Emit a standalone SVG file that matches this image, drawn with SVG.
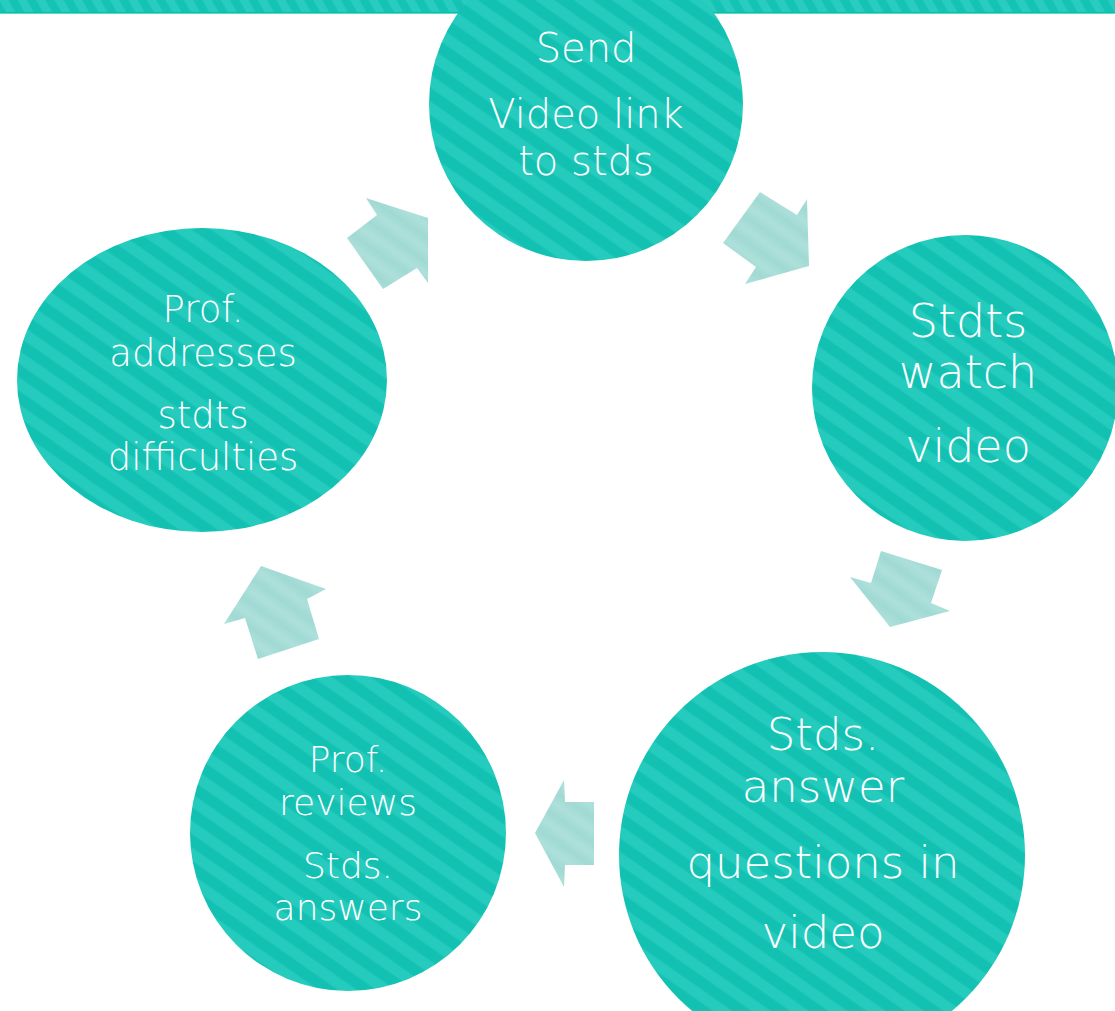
<svg xmlns="http://www.w3.org/2000/svg" width="1115" height="1011" viewBox="0 0 1115 1011">
  <defs>
    <!-- diagonal stripes for the teal shapes -->
    <linearGradient id="tealStripes" gradientUnits="userSpaceOnUse" x1="0" y1="0" x2="22" y2="0" spreadMethod="repeat" gradientTransform="rotate(-55)">
      <stop offset="0" stop-color="#25cbbd"/>
      <stop offset="0.4" stop-color="#25cbbd"/>
      <stop offset="0.5" stop-color="#12c1b2"/>
      <stop offset="0.9" stop-color="#12c1b2"/>
      <stop offset="1" stop-color="#25cbbd"/>
    </linearGradient>
    <linearGradient id="bandStripes" gradientUnits="userSpaceOnUse" x1="0" y1="0" x2="16" y2="0" spreadMethod="repeat" gradientTransform="rotate(-30)">
      <stop offset="0" stop-color="#28cdbf"/>
      <stop offset="0.4" stop-color="#28cdbf"/>
      <stop offset="0.5" stop-color="#14c3b3"/>
      <stop offset="0.9" stop-color="#14c3b3"/>
      <stop offset="1" stop-color="#28cdbf"/>
    </linearGradient>
    <!-- soft stripes for the pale arrows -->
    <linearGradient id="arrowStripe" gradientUnits="userSpaceOnUse" x1="0" y1="0" x2="20" y2="0" spreadMethod="repeat" gradientTransform="rotate(-55)">
      <stop offset="0" stop-color="#aee0db"/>
      <stop offset="0.5" stop-color="#a0d9d3"/>
      <stop offset="1" stop-color="#aee0db"/>
    </linearGradient>
    <style>
      .node { fill: url(#tealStripes); }
      .arrow { fill: url(#arrowStripe); }
      .label { fill: #ffffff; font-family: "DejaVu Sans", "Liberation Sans", sans-serif; font-weight: 200; text-anchor: middle; }
    </style>
  </defs>

  <rect width="1115" height="1011" fill="#ffffff"/>

  <!-- header band -->
  <rect x="0" y="0" width="1115" height="12" fill="url(#bandStripes)"/>
  <rect x="0" y="12" width="1115" height="1.6" fill="#03bfae"/>

  <!-- cycle connectors -->
  <g id="connectors">
    <polygon class="arrow" points="366,198 428,218 428,283 417,268 383,289 347,238 377,215"/>
    <polygon class="arrow" points="760,192 797,215 807,199 809,266 745,284 756,267 723,243"/>
    <polygon class="arrow" points="881,551 942,570 931,603 950,611 890,627 850,577 871,583"/>
    <polygon class="arrow" points="594,802 594,865 565,865 564,887 535,833 564,780 565,802"/>
    <polygon class="arrow" points="261,566 326,589 307,599 319,639 258,659 245,618 224,624"/>
  </g>

  <g id="node-send">
    <circle class="node" cx="586" cy="104" r="157"/>
    <text class="label" font-size="40" x="586" y="62">Send</text>
    <text class="label" font-size="40" x="586" y="128">Video link</text>
    <text class="label" font-size="40" x="586" y="175">to stds</text>
  </g>

  <g id="node-watch">
    <circle class="node" cx="965" cy="388" r="153"/>
    <text class="label" font-size="46" x="968" y="337">Stdts</text>
    <text class="label" font-size="46" x="968" y="388">watch</text>
    <text class="label" font-size="46" x="968" y="462">video</text>
  </g>

  <g id="node-answer">
    <circle class="node" cx="822" cy="855" r="203"/>
    <text class="label" font-size="45" x="823" y="750">Stds.</text>
    <text class="label" font-size="45" x="823" y="802">answer</text>
    <text class="label" font-size="45" x="823" y="878">questions in</text>
    <text class="label" font-size="45" x="823" y="948">video</text>
  </g>

  <g id="node-review">
    <circle class="node" cx="348" cy="833" r="158"/>
    <text class="label" font-size="36" x="348" y="772">Prof.</text>
    <text class="label" font-size="36" x="348" y="815">reviews</text>
    <text class="label" font-size="36" x="348" y="878">Stds.</text>
    <text class="label" font-size="36" x="348" y="920">answers</text>
  </g>

  <g id="node-address">
    <ellipse class="node" cx="202" cy="380" rx="185" ry="152"/>
    <text class="label" font-size="37" x="203" y="322">Prof.</text>
    <text class="label" font-size="37" x="203" y="366">addresses</text>
    <text class="label" font-size="37" x="203" y="428">stdts</text>
    <text class="label" font-size="37" x="203" y="470">difficulties</text>
  </g>
</svg>
